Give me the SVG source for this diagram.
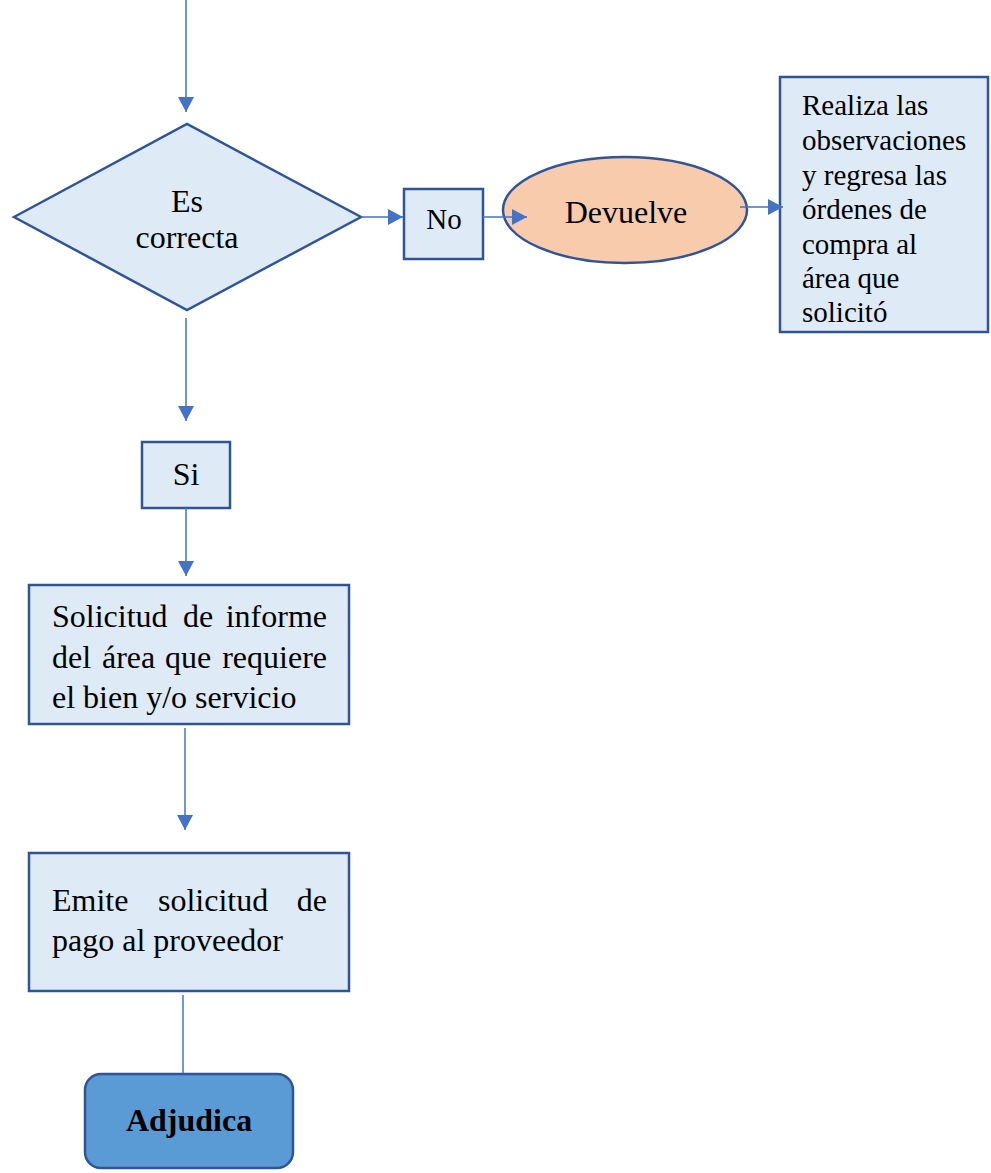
<svg xmlns="http://www.w3.org/2000/svg" width="991" height="1173" viewBox="0 0 991 1173">
<style>
.box{fill:#DEEBF7;stroke:#2F5597;stroke-width:2.5}
.t{font-family:"Liberation Serif","Times New Roman",serif;font-size:32px;fill:#000}
.s{font-size:29px}
.c{stroke:#4472C4;stroke-width:1.5;fill:none}
</style>
<defs>
<marker id="ah" markerUnits="userSpaceOnUse" markerWidth="16" markerHeight="16" viewBox="0 0 16 16" refX="15" refY="8" orient="auto">
<path d="M0,0 L15,8 L0,16 Z" fill="#4472C4"/>
</marker>
<clipPath id="clipSol"><rect x="29" y="585" width="320" height="138"/></clipPath>
</defs>
<rect width="991" height="1173" fill="#fff"/>
<g id="decision">
<polygon class="box" points="14,217 187,124 361,217 187,310"/>
<text class="t" x="187" y="212" text-anchor="middle">Es</text>
<text class="t" x="187" y="248" text-anchor="middle">correcta</text>
</g>
<g id="no">
<rect class="box" x="404" y="189" width="79" height="70"/>
<text class="t s" x="444" y="229" text-anchor="middle">No</text>
</g>
<g id="devuelve">
<ellipse cx="625" cy="210" rx="122" ry="53" fill="#F8CBAD" stroke="#2F5597" stroke-width="2.5"/>
<text class="t" x="626" y="223" text-anchor="middle">Devuelve</text>
</g>
<g id="observaciones">
<rect class="box" x="780" y="77" width="208" height="255"/>
<text class="t s" x="802" y="115">Realiza las</text>
<text class="t s" x="802" y="150">observaciones</text>
<text class="t s" x="802" y="185">y regresa las</text>
<text class="t s" x="802" y="219">órdenes de</text>
<text class="t s" x="802" y="254">compra al</text>
<text class="t s" x="802" y="288">área que</text>
<text class="t s" x="802" y="322">solicitó</text>
</g>
<g id="si">
<rect class="box" x="142" y="442" width="88" height="66"/>
<text class="t" x="186" y="485" text-anchor="middle">Si</text>
</g>
<g id="solicitud">
<rect class="box" x="29" y="585" width="320" height="139"/>
<text class="t" x="52" y="627">Solicitud</text>
<text class="t" x="183" y="627">de</text>
<text class="t" x="327" y="627" text-anchor="end">informe</text>
<text class="t" x="52" y="668">del</text>
<text class="t" x="102" y="668">área</text>
<text class="t" x="165" y="668">que</text>
<text class="t" x="327" y="668" text-anchor="end">requiere</text>
<text class="t" x="52" y="708" clip-path="url(#clipSol)">el bien y/o servicio</text>
</g>
<g id="emite">
<rect class="box" x="29" y="853" width="320" height="138"/>
<text class="t" x="52" y="911">Emite</text>
<text class="t" x="158" y="911">solicitud</text>
<text class="t" x="327" y="911" text-anchor="end">de</text>
<text class="t" x="52" y="951">pago al proveedor</text>
</g>
<g id="adjudica">
<rect x="85" y="1074" width="208" height="94" rx="16" ry="16" fill="#5B9BD5" stroke="#2F5597" stroke-width="2.5"/>
<text class="t" x="189" y="1131" text-anchor="middle" font-weight="bold">Adjudica</text>
</g>
<g id="connectors">
<line class="c" x1="186" y1="0" x2="186" y2="112" marker-end="url(#ah)"/>
<line class="c" x1="361" y1="217" x2="403" y2="217" marker-end="url(#ah)"/>
<line class="c" x1="483" y1="217" x2="527" y2="217" marker-end="url(#ah)"/>
<line class="c" x1="740" y1="207" x2="783" y2="207" marker-end="url(#ah)"/>
<line class="c" x1="186" y1="318" x2="186" y2="421" marker-end="url(#ah)"/>
<line class="c" x1="186" y1="508" x2="186" y2="576" marker-end="url(#ah)"/>
<line class="c" x1="185" y1="728" x2="185" y2="830" marker-end="url(#ah)"/>
<line class="c" x1="183" y1="995" x2="183" y2="1073"/>
</g>
</svg>
